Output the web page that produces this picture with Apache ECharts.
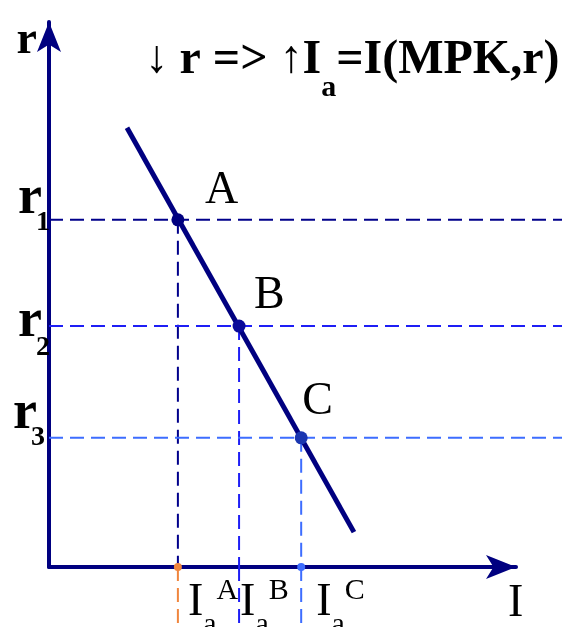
<!DOCTYPE html>
<html>
<head>
<meta charset="utf-8">
<style>
    html, body { margin: 0; padding: 0; background: #fff; }
    #chart { width: 562px; height: 627px; }
</style>
</head>
<body>
<div id="chart"></div>
<script src="https://cdn.jsdelivr.net/npm/echarts@6/dist/echarts.min.js"></script>
<script>
    // data (I on x, r on y, arbitrary units 0..10)
    var pointNames = ['A', 'B', 'C'];
    var investment = [2.76, 4.07, 5.40];   // Ia at A, B, C
    var rates = [6.37, 4.42, 2.37];        // r1, r2, r3
    var curveI = [1.67, 6.53];             // ends of the investment line
    var curveR = [8.06, 0.64];
    var rSubs = ['1', '2', '3'];

    // axes box: 0..10 on both axes; the guides run on past it to the picture edge
    var gLeft = 49, gRight = 46, gTop = 22, gBottom = 60, W = 562, H = 627;
    var xUnit = (W - gLeft - gRight) / 10;
    var yUnit = (H - gTop - gBottom) / 10;
    var rightEdge = (W - gLeft) / xUnit;
    var bottomEdge = 10 - (H - gTop) / yUnit;

    var navy = '#000080';
    var hColors = ['#00008b', '#1e1ef5', '#3d6dff'];
    var vLowColors = ['#f0863e', '#1e1ef5', '#3d6dff'];
    var dotColors = ['#000080', '#0a0a9a', '#1a36b0'];
    var labelOffsets = [[27, -6], [15, -7], [1, -13]];
    var iLabelShift = [10, 1, 15];
    // r labels: [top pad of r, top pad of subscript, extra right pad]
    var rLabelPads = [[4, 41, 0], [21, 60, 0], [1, 38, 5]];
    var serif = '"Liberation Serif", "DejaVu Serif", serif';

    function nearest(arr, v) {
        var best = 0;
        arr.forEach(function (a, i) {
            if (Math.abs(a - v) < Math.abs(arr[best] - v)) best = i;
        });
        return best;
    }

    function seg(p1, p2, color) {
        return {
            type: 'line',
            xAxisIndex: 1,
            yAxisIndex: 1,
            data: [p1, p2],
            showSymbol: false,
            silent: true,
            z: 2,
            lineStyle: { color: color, width: 2, type: [14, 7] }
        };
    }

    var series = [];
    investment.forEach(function (x, i) {
        var y = rates[i];
        series.push(seg([0, y], [rightEdge, y], hColors[i]));
        series.push(seg([x, y], [x, 0], hColors[i]));
        series.push(seg([x, 0], [x, bottomEdge], vLowColors[i]));
    });

    // investment curve
    series.push({
        type: 'line',
        xAxisIndex: 1,
        yAxisIndex: 1,
        data: curveI.map(function (x, i) { return [x, curveR[i]]; }),
        showSymbol: false,
        z: 5,
        lineStyle: { color: navy, width: 5 }
    });

    // A, B, C points
    series.push({
        type: 'scatter',
        xAxisIndex: 1,
        yAxisIndex: 1,
        z: 6,
        symbolSize: 13,
        itemStyle: { opacity: 1 },
        data: investment.map(function (x, i) {
            return {
                name: pointNames[i],
                value: [x, rates[i]],
                itemStyle: { color: dotColors[i], opacity: 1 },
                label: { offset: labelOffsets[i] }
            };
        }),
        label: {
            show: true,
            position: 'inside',
            align: 'left',
            verticalAlign: 'bottom',
            formatter: '{b}',
            fontFamily: serif,
            fontSize: 46,
            lineHeight: 46,
            color: '#000'
        }
    });

    // small dots where guides meet the I axis
    series.push({
        type: 'scatter',
        xAxisIndex: 1,
        yAxisIndex: 1,
        z: 6,
        symbolSize: 8,
        itemStyle: { opacity: 1 },
        data: [
            { value: [investment[0], 0], itemStyle: { color: vLowColors[0] } },
            { value: [investment[2], 0], itemStyle: { color: vLowColors[2] } }
        ]
    });

    var xRich = {
        sub: { fontFamily: serif, fontSize: 30, lineHeight: 30, color: '#000', verticalAlign: 'top', padding: [34, 0, 0, 0] },
        sup: { fontFamily: serif, fontSize: 30, lineHeight: 30, color: '#000', verticalAlign: 'top' }
    };
    iLabelShift.forEach(function (s, i) {
        xRich['i' + i] = { fontFamily: serif, fontSize: 46, lineHeight: 46, color: '#000', verticalAlign: 'top', padding: [4, 0, 0, s] };
    });

    var yRich = {};
    rLabelPads.forEach(function (p, i) {
        yRich['r' + i] = { fontFamily: serif, fontWeight: 'bold', fontSize: 54, lineHeight: 104, color: '#000', verticalAlign: 'top', padding: [p[0], 0, 0, 0] };
        yRich['s' + i] = { fontFamily: serif, fontWeight: 'bold', fontSize: 28, lineHeight: 104, color: '#000', verticalAlign: 'top', padding: [p[1], p[2], 0, -6] };
    });

    var chart = echarts.init(document.getElementById('chart'));
    chart.setOption({
        animation: false,
        backgroundColor: '#fff',
        title: {
            left: 145,
            top: 37,
            padding: 0,
            text: '{arr|↓ }{m|r => }{arr|↑}{m|I}{sub|a}{m|=I(MPK,r)}',
            textStyle: {
                rich: {
                    m: { fontFamily: serif, fontWeight: 'bold', fontSize: 48, lineHeight: 48, color: '#000', verticalAlign: 'top' },
                    arr: { fontFamily: serif, fontSize: 46, lineHeight: 48, color: '#000', verticalAlign: 'top' },
                    sub: { fontFamily: serif, fontWeight: 'bold', fontSize: 30, lineHeight: 30, color: '#000', verticalAlign: 'top', padding: [36, 0, 0, 0] }
                }
            }
        },
        grid: [
            { left: gLeft, right: gRight, top: gTop, bottom: gBottom, containLabel: false, outerBoundsMode: 'none' },
            { left: gLeft, right: 0, top: gTop, bottom: 0, containLabel: false, outerBoundsMode: 'none' }
        ],
        xAxis: [{
            type: 'value',
            gridIndex: 0,
            min: 0,
            max: 10,
            splitLine: { show: false },
            axisTick: { show: false },
            axisLine: {
                lineStyle: { color: navy, width: 4 },
                symbol: ['none', 'arrow'],
                symbolSize: [18, 30]
            },
            name: 'I',
            nameLocation: 'end',
            nameGap: -8,
            nameTextStyle: {
                fontFamily: serif, fontSize: 46, lineHeight: 46, color: '#000',
                align: 'left', verticalAlign: 'top', padding: [14, 0, 0, 0]
            },
            axisLabel: {
                customValues: investment,
                hideOverlap: false,
                margin: 9,
                align: 'left',
                formatter: function (v) {
                    var k = nearest(investment, v);
                    return '{i' + k + '|I}{sub|a}{sup|' + pointNames[k] + '}';
                },
                rich: xRich
            }
        }, {
            type: 'value',
            gridIndex: 1,
            min: 0,
            max: rightEdge,
            show: false,
            splitLine: { show: false }
        }],
        yAxis: [{
            type: 'value',
            gridIndex: 0,
            min: 0,
            max: 10,
            splitLine: { show: false },
            axisTick: { show: false },
            axisLine: {
                lineStyle: { color: navy, width: 4 },
                symbol: ['none', 'arrow'],
                symbolSize: [18, 30]
            },
            name: 'r',
            nameLocation: 'end',
            nameGap: -19,
            nameTextStyle: {
                fontFamily: serif, fontWeight: 'bold', fontSize: 46, color: '#000',
                align: 'right', verticalAlign: 'middle', padding: [0, 12, 0, 0]
            },
            axisLabel: {
                customValues: rates,
                hideOverlap: false,
                margin: -1,
                formatter: function (v) {
                    var k = nearest(rates, v);
                    return '{r' + k + '|r}{s' + k + '|' + rSubs[k] + '}';
                },
                rich: yRich
            }
        }, {
            type: 'value',
            gridIndex: 1,
            min: bottomEdge,
            max: 10,
            show: false,
            splitLine: { show: false }
        }],
        series: series
    });
</script>
</body>
</html>
